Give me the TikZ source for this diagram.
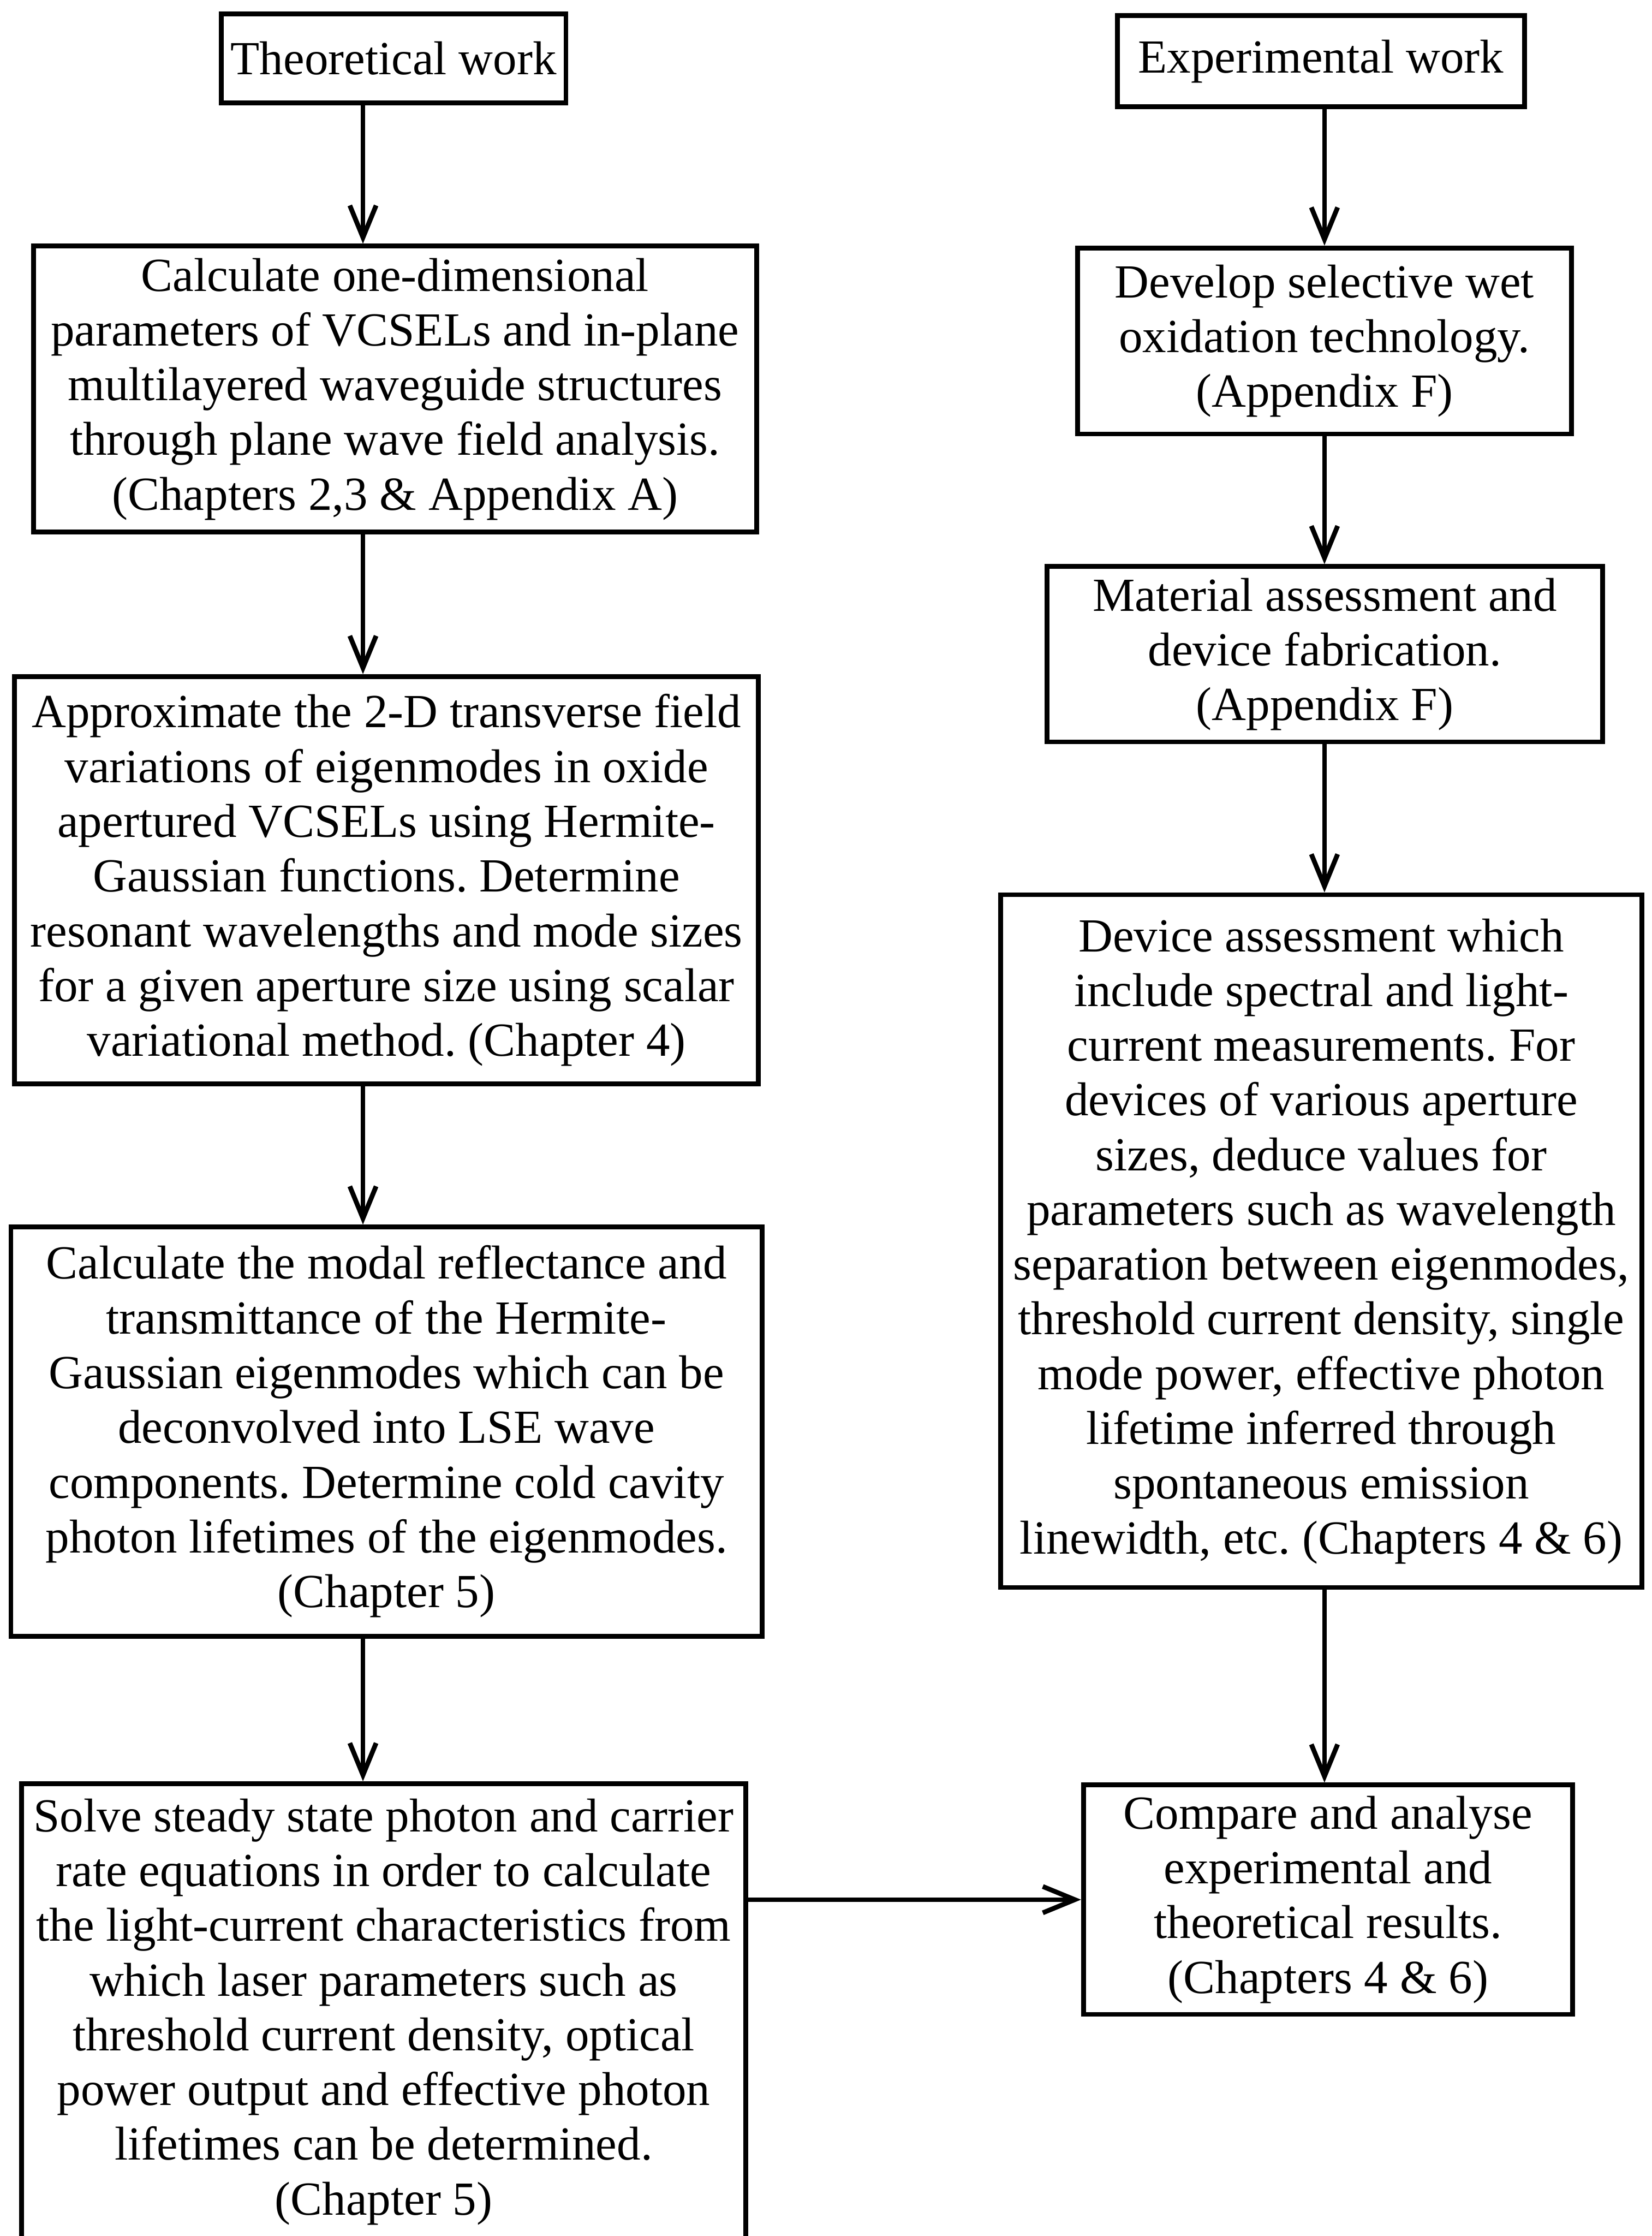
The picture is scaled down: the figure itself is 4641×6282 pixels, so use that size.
\documentclass[tikz,border=0pt]{standalone}
\usepackage{fontspec}
\setmainfont{Liberation Serif}
\usetikzlibrary{arrows.meta}
\frenchspacing

\tikzstyle{block} = [draw, line width=1.9pt, align=center, inner sep=0pt,
	font=\fontsize{19}{21.9}\selectfont]
\tikzstyle{flow} = [line width=1.9pt, -{Straight Barb[length=0.45cm,width=0.37cm]}]

\begin{document}
\begin{tikzpicture}[x=0.005cm,y=-0.005cm]
\useasboundingbox (0,0) rectangle (4641,6282);
% columns of the arrows
\coordinate (lcol) at (1020,0);
\coordinate (rcol) at (3722,0);

% theoretical side
\node [block, minimum width=4.85cm, minimum height=1.255cm] (theo) at (1106,164) {Theoretical work};
\node [block, minimum width=10.17cm, minimum height=4.02cm] (calc) at (1110,1093)
	{Calculate one-dimensional\\
	parameters of VCSELs and in-plane\\
	multilayered waveguide structures\\
	through plane wave field analysis.\\
	(Chapters 2,3 \& Appendix A)};
\node [block, minimum width=10.46cm, minimum height=5.73cm] (approx) at (1086,2473)
	{Approximate the 2-D transverse field\\
	variations of eigenmodes in oxide\\
	apertured VCSELs using Hermite-\\
	Gaussian functions. Determine\\
	resonant wavelengths and mode sizes\\
	for a given aperture size using scalar\\
	variational method. (Chapter 4)};
\node [block, minimum width=10.565cm, minimum height=5.755cm] (modal) at (1086,4022)
	{Calculate the modal reflectance and\\
	transmittance of the Hermite-\\
	Gaussian eigenmodes which can be\\
	deconvolved into LSE wave\\
	components. Determine cold cavity\\
	photon lifetimes of the eigenmodes.\\
	(Chapter 5)};
\node [block, minimum width=10.185cm, minimum height=6.415cm] (solve) at (1078,5652)
	{Solve steady state photon and carrier\\
	rate equations in order to calculate\\
	the light-current characteristics from\\
	which laser parameters such as\\
	threshold current density, optical\\
	power output and effective photon\\
	lifetimes can be determined.\\
	(Chapter 5)};

% experimental side
\node [block, minimum width=5.725cm, minimum height=1.28cm] (expt) at (3712,172) {Experimental work};
\node [block, minimum width=6.945cm, minimum height=2.615cm] (oxid) at (3722,958)
	{Develop selective wet\\
	oxidation technology.\\
	(Appendix F)};
\node [block, minimum width=7.815cm, minimum height=2.465cm] (fab) at (3723,1838)
	{Material assessment and\\
	device fabrication.\\
	(Appendix F)};
\node [block, minimum width=9.015cm, minimum height=9.74cm] (device) at (3713,3487)
	{Device assessment which\\
	include spectral and light-\\
	current measurements. For\\
	devices of various aperture\\
	sizes, deduce values for\\
	parameters such as wavelength\\
	separation between eigenmodes,\\
	threshold current density, single\\
	mode power, effective photon\\
	lifetime inferred through\\
	spontaneous emission\\
	linewidth, etc. (Chapters 4 \& 6)};
\node [block, minimum width=6.88cm, minimum height=3.225cm] (compare) at (3732,5337)
	{Compare and analyse\\
	experimental and\\
	theoretical results.\\
	(Chapters 4 \& 6)};

% arrows
\draw [flow] (theo.south -| lcol) -- (calc.north -| lcol);
\draw [flow] (calc.south -| lcol) -- (approx.north -| lcol);
\draw [flow] (approx.south -| lcol) -- (modal.north -| lcol);
\draw [flow] (modal.south -| lcol) -- (solve.north -| lcol);
\draw [flow] (expt.south -| rcol) -- (oxid.north -| rcol);
\draw [flow] (oxid.south -| rcol) -- (fab.north -| rcol);
\draw [flow] (fab.south -| rcol) -- (device.north -| rcol);
\draw [flow] (device.south -| rcol) -- (compare.north -| rcol);
\draw [flow] (compare.west -| solve.east) -- (compare.west);
\end{tikzpicture}
\end{document}
